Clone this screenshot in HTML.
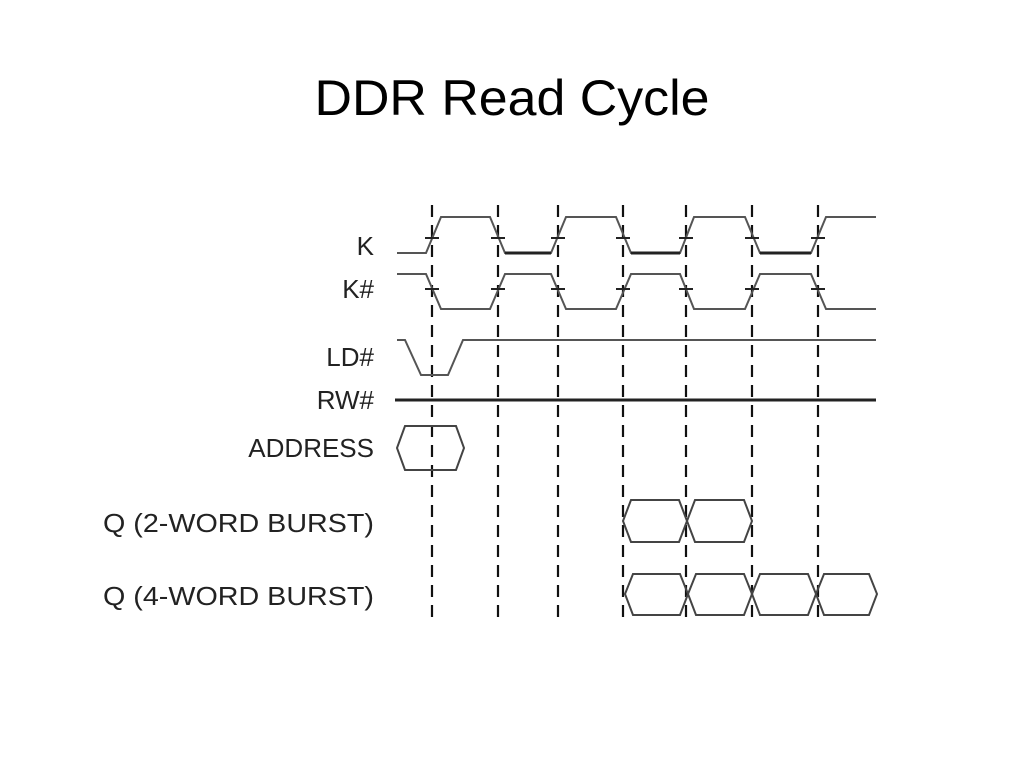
<!DOCTYPE html>
<html><head><meta charset="utf-8"><style>
html,body{margin:0;padding:0;background:#fff;}
svg{display:block;}
</style></head><body>
<svg width="1024" height="768" viewBox="0 0 1024 768" xmlns="http://www.w3.org/2000/svg">
<rect width="1024" height="768" fill="#fff"/>
<text x="512" y="115" text-anchor="middle" font-family="Liberation Sans, sans-serif" font-size="50" textLength="395" lengthAdjust="spacingAndGlyphs" fill="#000">DDR Read Cycle</text>
<g font-family="Liberation Sans, sans-serif" font-size="26" fill="#222" text-anchor="end">
<text x="374" y="255">K</text>
<text x="374" y="298">K#</text>
<text x="374" y="366">LD#</text>
<text x="374" y="409">RW#</text>
<text x="374" y="457">ADDRESS</text>
<text x="374" y="532" textLength="271" lengthAdjust="spacingAndGlyphs">Q (2-WORD BURST)</text>
<text x="374" y="605" textLength="271" lengthAdjust="spacingAndGlyphs">Q (4-WORD BURST)</text>
</g>
<g stroke="#111" stroke-width="2.2" stroke-dasharray="12,8">
<line x1="432" y1="205" x2="432" y2="618"/>
<line x1="498" y1="205" x2="498" y2="618"/>
<line x1="558" y1="205" x2="558" y2="618"/>
<line x1="623" y1="205" x2="623" y2="618"/>
<line x1="686" y1="205" x2="686" y2="618"/>
<line x1="752" y1="205" x2="752" y2="618"/>
<line x1="818" y1="205" x2="818" y2="618"/>
</g>
<g fill="none" stroke="#555" stroke-width="2">
<path d="M397 253 L426 253 L441 217 L490 217 L505 253 L551 253 L566 217 L616 217 L631 253 L680 253 L694 217 L745 217 L760 253 L811 253 L826 217 L876 217"/>
<path d="M397 274 L426 274 L441 309 L490 309 L505 274 L551 274 L566 309 L616 309 L631 274 L680 274 L694 309 L745 309 L760 274 L811 274 L826 309 L876 309"/>
<path d="M397 340 L405 340 L421 375 L448 375 L463 340 L876 340"/>
</g>
<g stroke="#222" stroke-width="3">
<line x1="505" y1="253" x2="551" y2="253"/>
<line x1="631" y1="253" x2="680" y2="253"/>
<line x1="760" y1="253" x2="811" y2="253"/>
<line x1="395" y1="400" x2="876" y2="400"/>
</g>
<g stroke="#222" stroke-width="2">
<line x1="425" y1="238" x2="439" y2="238"/><line x1="491" y1="238" x2="505" y2="238"/><line x1="551" y1="238" x2="565" y2="238"/><line x1="616" y1="238" x2="630" y2="238"/><line x1="679" y1="238" x2="693" y2="238"/><line x1="745" y1="238" x2="759" y2="238"/><line x1="811" y1="238" x2="825" y2="238"/>
<line x1="425" y1="289" x2="439" y2="289"/><line x1="491" y1="289" x2="505" y2="289"/><line x1="551" y1="289" x2="565" y2="289"/><line x1="616" y1="289" x2="630" y2="289"/><line x1="679" y1="289" x2="693" y2="289"/><line x1="745" y1="289" x2="759" y2="289"/><line x1="811" y1="289" x2="825" y2="289"/>
</g>
<g fill="none" stroke="#444" stroke-width="2">
<path d="M397 448 L405 426 L456 426 L464 448 L456 470 L405 470 Z"/>
<path d="M623 521 L631 500 L679 500 L687 521 L679 542 L631 542 Z"/>
<path d="M687 521 L695 500 L744 500 L752 521 L744 542 L695 542 Z"/>
<path d="M625 594 L633 574 L680 574 L688 594 L680 615 L633 615 Z"/>
<path d="M688 594 L696 574 L744 574 L752 594 L744 615 L696 615 Z"/>
<path d="M752 594 L760 574 L808 574 L816 594 L808 615 L760 615 Z"/>
<path d="M816 594 L824 574 L869 574 L877 594 L869 615 L824 615 Z"/>
</g>
</svg>
</body></html>
